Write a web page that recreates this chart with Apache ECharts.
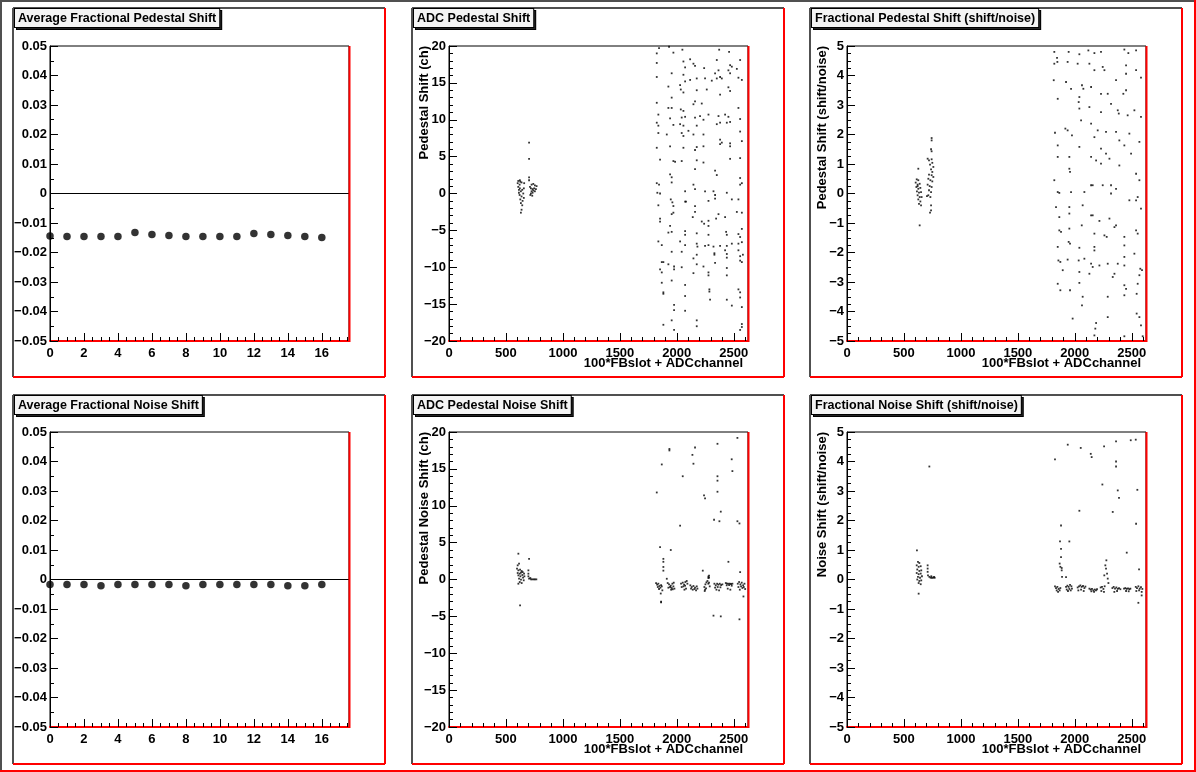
<!DOCTYPE html>
<html>
<head>
<meta charset="utf-8">
<title>Pedestal shifts</title>
<script src="https://cdn.jsdelivr.net/npm/echarts@6/dist/echarts.min.js"></script>
<style>
  html, body { margin: 0; padding: 0; background: #fff; }
  #main { width: 1196px; height: 772px; }
</style>
</head>
<body>
<div id="main"></div>
<script>
// ---- data ----
var slots = [0, 1, 2, 3, 4, 5, 6, 7, 8, 9, 10, 11, 12, 13, 14, 15, 16];

var avgPedShift = [-0.0144, -0.0146, -0.0146, -0.0146, -0.0146, -0.0132, -0.0139, -0.0142, -0.0146,
    -0.0146, -0.0146, -0.0146, -0.0136, -0.0139, -0.0142, -0.0146, -0.0149];

var avgNoiseShift = [-0.0017, -0.0017, -0.0017, -0.0021, -0.0017, -0.0017, -0.0017, -0.0017, -0.0021,
    -0.0017, -0.0017, -0.0017, -0.0017, -0.0017, -0.0021, -0.0021, -0.0017];

// [100*FBslot + ADCchannel, shift in ch]
var adcPedShift = [
    [608,1.7],[622,1.8],[603,1.4],[620,1.2],[637,1.5],[608,0.9],[622,0.7],[643,0.5],[631,0.3],[614,0.1],
    [652,0.0],[620,-0.2],[637,-0.4],[626,-0.8],[646,-1.0],[631,-1.3],[643,-1.6],[637,-2.2],[631,-2.6],
    [660,1.4],[657,0.7],[657,-0.6],[626,1.6],[614,0.5],
    [703,6.9],[703,4.7],[703,2.2],[703,1.8],
    [725,1.2],[740,1.3],[754,1.1],[719,0.7],[734,0.6],[748,0.7],[763,0.6],[725,0.3],[740,0.4],[754,0.3],
    [719,0.0],[734,0.1],[711,0.9],[769,1.0],[714,-0.2],[731,-0.3],
    [1844,19.7],[1932,19.9],[2049,19.5],[2372,19.5],[2459,19.2],[1824,19.0],[1970,19.1],[2117,18.2],
    [2058,17.9],[2146,17.6],[2160,17.3],[2240,17.0],[2351,18.1],[2468,17.4],[2483,17.2],[2556,18.1],
    [1824,17.7],[1824,15.8],[1955,16.3],[2073,17.1],[2336,16.3],[2366,16.7],[2380,15.8],[2453,16.7],
    [2468,16.3],[2527,16.9],[2058,16.1],[2117,15.4],[2175,15.6],[2248,15.6],[2307,15.3],[2351,15.6],
    [2395,15.6],[2541,15.7],[2571,15.4],[1926,14.5],[2029,14.7],[2035,14.1],[2058,13.7],[2175,14.0],
    [2263,14.1],[2380,13.4],[2453,14.4],[2468,13.9],[2073,15.2],[1955,13.0],[1824,12.3],[1926,11.6],
    [1955,11.6],[2035,11.4],[2058,11.2],[2146,12.1],[2160,12.5],[2219,12.2],[1838,10.7],[1941,10.2],
    [2043,10.3],[2073,10.4],[2160,10.3],[2204,10.5],[2234,10.0],[2278,10.7],[2366,10.5],[2424,10.7],
    [2453,10.4],[2468,9.7],[2351,9.4],[2380,9.6],[2439,9.6],[2556,10.1],[1824,9.6],[1838,9.2],
    [1970,9.3],[2029,9.4],[2058,9.2],[2102,8.5],[2175,9.2],[2541,11.6],[1838,8.2],[1912,8.0],
    [2043,8.2],[2058,7.8],[2146,8.0],[2234,8.0],[2380,7.3],[2395,6.9],[2468,6.8],[2556,8.4],
    [2571,7.1],[1824,6.2],[1941,6.4],[2058,6.2],[2160,5.9],[2175,6.3],[2234,6.4],[2380,6.7],
    [2468,6.4],[1853,4.6],[1970,4.4],[1985,4.3],[2043,4.4],[2175,4.5],[2234,4.2],[2468,4.7],
    [2556,4.8],[1941,2.6],[1955,2.2],[2160,3.3],[2336,3.1],[2351,2.5],[2556,2.1],[2571,1.4],
    [1824,1.4],[1844,1.2],[1955,1.5],[2073,0.3],[2146,1.2],[2160,0.6],[2248,0.3],[2556,1.2],
    [1829,0.1],[1853,0.0],[2322,0.3],[2439,0.1],
    [1947,-0.8],[1961,-1.2],[1970,-1.7],[2073,-1.1],[2081,-1.1],[2278,-1.0],[2336,-0.2],[2336,-0.7],
    [2483,-0.8],[2541,-0.8],[1838,-1.6],[2160,-1.7],[1955,-2.8],[1970,-2.6],[2140,-3.2],[2160,-2.5],
    [2219,-3.8],[2240,-4.1],[2278,-3.7],[2278,-4.4],[2345,-3.4],[2366,-2.8],[2424,-3.2],[2527,-2.5],
    [2571,-2.6],[1853,-3.4],[1853,-3.8],[1941,-4.4],[1926,-5.3],[1955,-5.2],[2073,-5.1],[2073,-5.6],
    [2175,-5.4],[2278,-5.6],[2433,-5.2],[2439,-5.6],[2541,-5.5],[2556,-5.9],[2571,-4.8],[1838,-6.5],
    [1868,-7.0],[2029,-6.5],[2073,-7.0],[2175,-6.8],[2181,-7.2],[2248,-7.1],[2278,-7.0],[2322,-7.2],
    [2380,-7.1],[2439,-7.1],[2483,-6.8],[2541,-6.8],[2571,-6.6],[1955,-7.9],[2043,-7.9],[2175,-8.3],
    [2146,-8.8],[2330,-8.1],[2330,-8.3],[2424,-7.7],[2439,-8.2],[2439,-8.7],[2541,-7.7],[2556,-8.5],
    [2580,-8.3],[1868,-9.3],[1882,-9.3],[1926,-9.6],[1976,-9.9],[1976,-10.3],[2043,-10.0],[2175,-9.6],
    [2234,-9.9],[2336,-9.4],[2439,-10.1],[2439,-11.1],[2556,-9.1],[2571,-9.3],[1853,-10.3],[1868,-10.7],
    [2146,-10.8],[2278,-10.7],[2278,-11.1],[1955,-11.8],[1868,-12.1],[2073,-12.4],[2286,-13.0],[2286,-13.3],
    [2292,-14.4],[2541,-13.0],[2556,-13.4],[2556,-14.1],[1882,-13.4],[1882,-13.6],[2073,-13.9],[2439,-14.4],
    [2483,-15.2],[2571,-15.4],[1976,-15.1],[1976,-15.8],[2073,-15.9],[1955,-17.2],[2175,-17.2],[2175,-18.0],
    [1882,-17.8],[1976,-18.5],[2571,-17.7],[2571,-18.1],[2556,-18.5]
];

// [100*FBslot + ADCchannel, shift/noise]
var fracPedShift = [
    [743,1.88],[743,1.80],[738,1.5],[743,1.43],[708,1.18],[720,1.12],[743,1.16],[749,1.04],[729,0.98],
    [758,0.90],[738,0.82],[749,0.73],[720,0.64],[743,0.62],[758,0.56],[714,0.50],[732,0.45],[749,0.41],
    [708,0.30],[726,0.25],[743,0.22],[720,0.11],[738,0.05],[714,-0.06],[732,-0.12],[702,-0.09],
    [738,-0.40],[738,-0.57],[729,-0.65],
    [626,0.84],[612,0.48],[626,0.45],[603,0.37],[620,0.30],[638,0.33],[609,0.22],[626,0.16],[644,0.19],
    [614,0.07],[632,0.03],[650,0.05],[620,-0.06],[638,-0.12],[626,-0.20],[644,-0.27],[632,-0.35],
    [650,-0.40],[638,-1.08],[620,0.25],[655,-0.12],
    [1820,4.8],[1844,4.6],[1820,4.4],[1847,4.46],[1946,4.8],[2040,4.72],[2119,4.85],[2172,4.76],
    [2230,4.8],[2435,4.88],[2470,4.76],[2538,4.85],[1937,4.46],[2025,4.4],[2128,4.4],[2172,4.18],
    [2245,4.29],[2260,4.18],[2450,4.34],[2450,4.06],[2538,4.18],[2581,3.93],[1815,3.84],[1923,3.78],
    [1967,3.55],[2063,3.67],[2143,3.61],[2075,3.55],[2362,3.84],[2450,3.5],[2426,3.38],[2230,3.38],
    [2289,3.38],[1850,3.21],[2040,3.27],[2034,3.1],[2040,2.88],[2128,2.93],[2230,2.76],[2318,3.04],
    [2377,2.82],[2386,2.71],[2464,2.65],[2523,2.82],[2581,2.6],[2055,2.48],[2143,2.37],[1917,2.2],
    [1937,2.14],[1975,1.97],[1826,2.06],[2201,2.14],[2274,2.09],[2362,2.09],[2391,1.8],[2479,2.03],
    [2567,1.75],[1850,1.63],[2040,1.58],[2172,1.91],[2230,1.52],[2274,1.35],[2435,1.63],[1850,1.24],
    [1952,1.24],[2143,1.24],[2187,1.12],[2304,1.18],[2230,1.01],[2391,0.95],[2494,1.35],[2538,0.67],
    [1952,0.84],[1958,0.73],[1820,0.45],[2143,0.28],[2157,0.28],[2245,0.28],[2318,0.28],[2567,0.45],
    [1850,0.05],[1864,0.02],[1967,0.05],[2084,0.05],[2318,0.0],[2362,0.16],[2479,-0.23],[2538,-0.23],
    [2552,-0.12],[1835,-0.46],[1864,-0.8],[1952,-0.46],[1952,-0.68],[2069,-0.4],[2143,-0.74],[2157,-0.74],
    [2216,-0.93],[2304,-0.85],[2581,-0.51],[1864,-1.25],[1879,-1.3],[1952,-1.19],[2061,-1.08],[2172,-1.36],
    [2260,-1.42],[2280,-1.47],[2362,-1.08],[2348,-1.14],[2538,-1.25],[2552,-1.36],[1850,-1.81],[1946,-1.64],
    [1958,-1.7],[2040,-1.84],[2172,-1.81],[2172,-1.93],[2435,-1.47],[2435,-1.76],[1856,-2.27],[1873,-2.32],
    [1937,-2.24],[2034,-2.27],[2084,-2.21],[2143,-2.38],[2157,-2.49],[2216,-2.44],[2289,-2.38],[2377,-2.38],
    [2435,-2.15],[2435,-2.44],[2523,-2.04],[2575,-2.55],[2590,-2.6],[1894,-2.6],[2040,-2.66],[2128,-2.72],
    [2348,-2.72],[2333,-2.83],[2567,-2.77],[2552,-3.06],[1850,-3.06],[1873,-3.28],[1958,-3.28],[2040,-3.03],
    [2435,-3.11],[2450,-3.23],[2435,-3.45],[2063,-3.79],[2069,-3.5],[2289,-3.5],[2543,-3.4],[1981,-4.24],
    [2289,-4.19],[2187,-4.39],[2180,-4.58],[2543,-4.07],[2567,-4.19],[2581,-4.47],[2172,-4.81],[2435,-4.84],
    [2596,-4.84]
];

// [100*FBslot + ADCchannel, noise shift in ch]
var adcNoiseShift = [
    [603,1.92],[615,2.15],[597,1.47],[609,1.24],[624,1.33],[638,1.15],[603,0.88],[621,0.79],[632,0.92],
    [647,1.0],[609,0.56],[627,0.43],[644,0.61],[659,0.79],[615,0.11],[632,-0.02],[650,0.25],[662,0.43],
    [621,-0.34],[638,-0.48],[609,-0.57],[656,-0.11],[609,3.5],[624,-3.5],
    [703,2.8],[697,1.24],[697,0.79],[697,0.43],[703,0.11],[720,0.02],[732,0.02],[744,0.02],[755,0.02],
    [767,0.02],[714,0.2],
    [1824,11.8],[1868,15.6],[1935,17.7],[1935,17.5],[2052,14.0],[2137,16.9],[2146,15.7],[2160,17.9],
    [2239,11.4],[2248,11.0],[2357,18.4],[2357,14.0],[2357,13.4],[2357,11.9],[2386,9.2],[2327,8.1],
    [2374,7.9],[2482,16.3],[2488,14.7],[2532,19.2],[2532,7.9],[2550,7.6],[2029,7.3],[1853,4.4],
    [1947,4.0],[2453,2.4],[2556,1.0],[1882,2.8],[1882,2.4],[1882,1.7],[1882,1.2],[2228,1.2],
    [2277,0.2],[2277,0.4],[1912,0.1],[1862,-3.0],[1862,-3.1],[2322,-4.9],[2386,-5.0],[2550,-5.4],
    [2585,-2.3],
    [1818,-0.48],[1827,-0.7],[1838,-0.57],[1847,-0.88],[1833,-1.02],[1856,-1.11],[1868,-0.93],[1844,-1.29],
    [1862,-0.75],[1873,-1.47],[1859,-1.9],
    [1920,-0.48],[1932,-0.66],[1947,-0.84],[1961,-0.57],[1973,-0.43],[1926,-1.11],[1941,-1.02],[1955,-1.15],
    [1970,-0.93],[1950,-1.38],[1964,-1.33],[1979,-1.24],
    [2037,-0.57],[2052,-0.43],[2064,-0.7],[2075,-0.34],[2087,-0.2],[2043,-1.02],[2058,-0.93],[2073,-0.84],
    [2081,-1.24],[2067,-1.38],[2093,-0.57],
    [2119,-0.79],[2131,-1.02],[2146,-0.88],[2160,-1.11],[2175,-0.93],[2125,-1.24],[2140,-1.38],[2155,-1.29],
    [2169,-1.47],[2181,-1.24],
    [2242,-1.02],[2251,-0.66],[2260,-0.39],[2269,-0.2],[2277,-0.57],[2248,-1.38],[2257,-1.2],[2283,-0.43],
    [2283,0.25],[2283,0.52],[2289,-0.93],[2245,-1.56],
    [2330,-0.57],[2342,-0.79],[2354,-0.57],[2365,-0.7],[2377,-0.57],[2389,-0.75],[2400,-0.66],[2336,-1.11],
    [2359,-1.02],[2383,-1.06],[2348,-1.38],[2371,-1.47],
    [2430,-0.48],[2441,-0.57],[2453,-0.57],[2465,-0.57],[2476,-0.61],[2488,-0.57],[2438,-0.79],[2459,-0.75],
    [2482,-0.84],[2447,-1.24],[2470,-1.38],
    [2535,-0.57],[2547,-0.34],[2558,-0.66],[2570,-0.43],[2582,-0.79],[2594,-0.57],[2541,-1.02],[2564,-0.93],
    [2576,-1.15],[2588,-1.02],[2553,-1.38],[2600,-1.29]
];

// [100*FBslot + ADCchannel, noise shift / noise]
var fracNoiseShift = [
    [614,0.99],[623,0.6],[635,0.56],[612,0.48],[629,0.43],[647,0.45],[617,0.34],[635,0.29],[652,0.31],
    [612,0.22],[629,0.18],[647,0.2],[623,0.09],[641,0.06],[658,0.11],[617,0.0],[635,-0.05],[652,-0.03],
    [629,-0.12],[647,-0.16],[629,-0.48],
    [708,0.48],[708,0.37],[708,0.26],[711,0.14],[723,0.09],[734,0.06],[746,0.06],[758,0.06],[770,0.06],
    [740,0.11],[764,0.09],[723,3.83],
    [1826,4.07],[1938,4.57],[2052,4.46],[2140,4.26],[2148,4.15],[2257,4.51],[2362,4.68],[2362,4.0],
    [2362,3.83],[2491,4.72],[2535,4.74],[2549,3.04],[2242,3.22],[2377,3.02],[2388,2.77],[2333,2.29],
    [2040,2.33],[2538,1.89],[1879,1.83],[1870,1.29],[1879,1.04],[1952,1.29],[1879,0.76],[2456,0.91],
    [1885,0.39],[1885,0.31],[1923,0.08],[2564,0.34],[2558,-0.79],[2587,-0.54],
    [1867,0.54],[1873,0.43],[1888,0.09],
    [1826,-0.23],[1835,-0.29],[1847,-0.25],[1858,-0.32],[1867,-0.37],[1841,-0.37],[1853,-0.42],[1873,-0.29],
    [1923,-0.25],[1935,-0.21],[1946,-0.25],[1958,-0.18],[1970,-0.23],[1929,-0.34],[1940,-0.39],[1952,-0.32],
    [1964,-0.37],[1975,-0.31],
    [2025,-0.27],[2037,-0.23],[2049,-0.2],[2060,-0.25],[2072,-0.22],[2084,-0.29],[2093,-0.24],[2031,-0.37],
    [2055,-0.34],[2078,-0.39],
    [2128,-0.31],[2139,-0.34],[2151,-0.32],[2163,-0.37],[2175,-0.34],[2186,-0.37],[2195,-0.33],[2145,-0.4],
    [2169,-0.42],
    [2227,-0.27],[2239,-0.25],[2251,-0.32],[2262,-0.23],[2233,-0.39],[2256,-0.42],[2268,0.48],[2274,0.37],
    [2283,0.2],[2289,0.03],[2295,-0.12],[2259,0.14],[2277,0.65],
    [2330,-0.29],[2341,-0.25],[2353,-0.31],[2365,-0.27],[2377,-0.32],[2388,-0.29],[2400,-0.33],[2347,-0.42],
    [2371,-0.39],
    [2432,-0.31],[2444,-0.29],[2455,-0.32],[2467,-0.3],[2479,-0.33],[2488,-0.31],[2450,-0.39],[2473,-0.4],
    [2535,-0.25],[2546,-0.29],[2558,-0.23],[2570,-0.31],[2581,-0.26],[2593,-0.32],[2540,-0.39],[2564,-0.37],
    [2587,-0.42]
];

var titles = ['Average Fractional Pedestal Shift', 'ADC Pedestal Shift', 'Fractional Pedestal Shift (shift/noise)',
    'Average Fractional Noise Shift', 'ADC Pedestal Noise Shift', 'Fractional Noise Shift (shift/noise)'];
var yNames = [null, 'Pedestal Shift (ch)', 'Pedestal Shift (shift/noise)',
    null, 'Pedestal Noise Shift (ch)', 'Noise Shift (shift/noise)'];
var xName = '100*FBslot + ADCchannel';

// ---- layout ----
var FONT = '"Liberation Sans", Arial, Helvetica, sans-serif';
var gridLefts = [50, 449, 847], gridTops = [46, 432];
var GW = 299, GH = 295;
var padLefts = [13, 412, 810], padTops = [8, 395];
var PW = 372, PH = 369;

function tickFmt(v) {
    return String(+v.toFixed(3)).replace('-', '\u2212');
}

function axisKind(i) { return i % 3; } // 0 slot-average, 1 ch, 2 shift/noise

var yRanges = [
    { min: -0.05, max: 0.05, interval: 0.01, minor: 2 },
    { min: -20, max: 20, interval: 5, minor: 5 },
    { min: -5, max: 5, interval: 1, minor: 4 }
];
var xRanges = [
    { min: 0, max: 17.6, interval: 2, minor: 4 },
    { min: 0, max: 2625, interval: 500, minor: 5 },
    { min: 0, max: 2625, interval: 500, minor: 5 }
];

var seriesData = [slots.map(function (s, k) { return [s, avgPedShift[k]]; }), adcPedShift, fracPedShift,
    slots.map(function (s, k) { return [s, avgNoiseShift[k]]; }), adcNoiseShift, fracNoiseShift];

var grids = [], xAxes = [], yAxes = [], series = [], graphics = [];

function edge(x1, y1, x2, y2, color) {
    return { type: 'line', z: 100, silent: true, shape: { x1: x1, y1: y1, x2: x2, y2: y2 },
        style: { stroke: color, lineWidth: 2 } };
}

// canvas border
graphics.push(edge(1, 0, 1, 772, '#505050'), edge(0, 1, 1196, 1, '#505050'),
    edge(1195, 0, 1195, 772, '#ff0000'), edge(0, 771, 1196, 771, '#ff0000'));

for (var i = 0; i < 6; i++) {
    var col = i % 3, row = Math.floor(i / 3);
    var gl = gridLefts[col], gt = gridTops[row];
    var px = padLefts[col], py = padTops[row];
    var yr = yRanges[axisKind(i)], xr = xRanges[axisKind(i)];

    // pad frame
    graphics.push(edge(px, py, px + PW, py, '#505050'), edge(px, py, px, py + PH, '#505050'),
        edge(px + PW, py, px + PW, py + PH, '#ff0000'), edge(px, py + PH, px + PW, py + PH, '#ff0000'));
    // right edge of the plot frame
    graphics.push(edge(gl + GW + 0.5, gt, gl + GW + 0.5, gt + GH + 1, '#ff0000'));

    grids.push({ left: gl, top: gt, width: GW, height: GH, show: true,
        borderColor: '#000', borderWidth: 1, backgroundColor: '#fff' });

    xAxes.push({
        type: 'value', gridIndex: i, min: xr.min, max: xr.max, interval: xr.interval,
        axisLine: { show: true, onZero: false, lineStyle: { color: '#ff0000', width: 2 } },
        axisTick: { show: true, inside: true, length: 8, lineStyle: { color: '#000' } },
        minorTick: { show: true, splitNumber: xr.minor, length: 4, lineStyle: { color: '#000' } },
        splitLine: { show: false },
        axisLabel: { show: true, showMaxLabel: false, margin: 6, color: '#000', fontFamily: FONT,
            fontWeight: 'bold', fontSize: 13, formatter: tickFmt }
    });
    yAxes.push({
        type: 'value', gridIndex: i, min: yr.min, max: yr.max, interval: yr.interval,
        axisLine: { show: true, onZero: false, lineStyle: { color: '#000', width: 1 } },
        axisTick: { show: true, inside: true, length: 8, lineStyle: { color: '#000' } },
        minorTick: { show: true, splitNumber: yr.minor, length: 4, lineStyle: { color: '#000' } },
        splitLine: { show: false },
        axisLabel: { show: true, margin: 3, color: '#000', fontFamily: FONT,
            fontWeight: 'bold', fontSize: 13, formatter: tickFmt }
    });

    if (axisKind(i) === 0) {
        series.push({
            type: 'scatter', xAxisIndex: i, yAxisIndex: i, data: seriesData[i],
            symbol: 'circle', symbolSize: 7.5, itemStyle: { color: '#000' },
            markLine: { silent: true, symbol: 'none', label: { show: false },
                lineStyle: { color: '#000', width: 1, type: 'solid' }, data: [{ yAxis: 0 }] }
        });
    } else {
        series.push({
            type: 'scatter', xAxisIndex: i, yAxisIndex: i, data: seriesData[i],
            symbol: 'rect', symbolSize: 1.8, itemStyle: { color: '#000' }
        });
        graphics.push({
            type: 'text', z: 100, silent: true, x: gl - 25, y: gt, rotation: Math.PI / 2,
            style: { text: yNames[i], fill: '#000', font: 'bold 13px ' + FONT,
                textAlign: 'right', textVerticalAlign: 'middle' }
        });
        graphics.push({
            type: 'text', z: 100, silent: true, x: gl + GW - 5, y: gt + GH + 22,
            style: { text: xName, fill: '#000', font: 'bold 13px ' + FONT,
                textAlign: 'right', textVerticalAlign: 'middle' }
        });
    }

    // title box: a dark copy offset by 2px acts as the drop shadow
    [[2, '#222', '#222', 100], [0, '#f4f4f4', '#000', 101]].forEach(function (b) {
        graphics.push({
            type: 'text', z: b[3], silent: true, x: px + 2 + b[0], y: py + 1 + b[0],
            style: { text: titles[i], fill: b[2], font: 'bold 12.5px ' + FONT,
                textAlign: 'left', textVerticalAlign: 'top',
                backgroundColor: b[1], borderColor: '#000', borderWidth: 1, padding: [3, 3, 2, 3] }
        });
    });
}

var chart = echarts.init(document.getElementById('main'), null, { renderer: 'canvas' });
chart.setOption({
    backgroundColor: '#fff',
    animation: false,
    grid: grids,
    xAxis: xAxes,
    yAxis: yAxes,
    series: series,
    graphic: graphics
});
</script>
</body>
</html>
